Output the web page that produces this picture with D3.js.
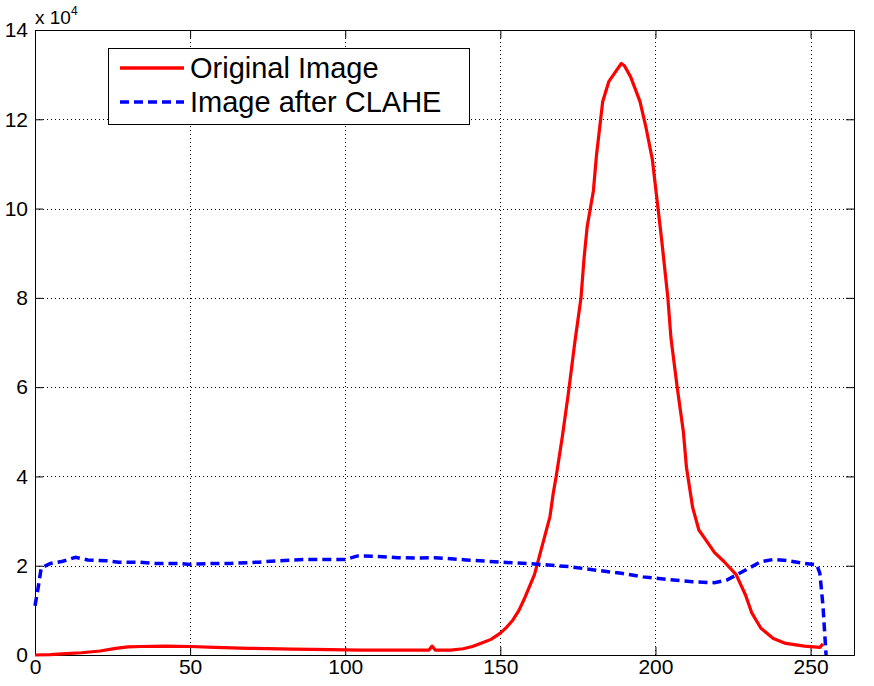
<!DOCTYPE html>
<html>
<head>
<meta charset="utf-8">
<script src="https://cdn.jsdelivr.net/npm/d3@7"></script>
<style>
  body { margin: 0; background: #fff; }
  text { font-family: Arial, "Liberation Sans", Helvetica, sans-serif; fill: #000; }
</style>
</head>
<body>
<div id="chart"></div>
<script>
// histogram values, counts in units of 1e4
var originalX = [0, 5, 10, 15, 21, 26, 30, 34, 42, 50, 58, 69, 83, 95, 105, 118, 127, 128, 129, 134, 138, 141, 144, 147, 150, 152, 154, 156, 158, 161, 164, 166, 167, 168, 170, 172, 174, 176, 177, 178, 180, 181, 182, 183, 185, 187, 189, 190, 192, 195, 197, 199, 200, 201, 202, 204, 205, 207, 208, 209, 210, 212, 214, 216, 219, 222, 226, 229, 231, 234, 238, 242, 248, 253, 254];
var originalY = [0, 0.01, 0.03, 0.05, 0.09, 0.15, 0.18, 0.19, 0.2, 0.19, 0.17, 0.15, 0.13, 0.12, 0.11, 0.11, 0.11, 0.2, 0.11, 0.11, 0.14, 0.19, 0.27, 0.35, 0.49, 0.62, 0.78, 1.0, 1.3, 1.8, 2.58, 3.1, 3.6, 4.0, 4.9, 5.9, 7.0, 8.0, 8.9, 9.6, 10.4, 11.2, 11.8, 12.4, 12.85, 13.05, 13.25, 13.2, 12.95, 12.4, 11.8, 11.1, 10.5, 9.9, 9.3, 8.0, 7.1, 6.0, 5.5, 5.0, 4.2, 3.3, 2.8, 2.6, 2.3, 2.1, 1.8, 1.35, 0.95, 0.6, 0.37, 0.26, 0.2, 0.17, 0.25];

var claheX = [0, 1, 2, 5, 9, 13, 17, 23, 27, 33, 39, 46, 50, 57, 63, 72, 78, 87, 93, 100, 104, 110, 117, 123, 129, 139, 150, 161, 172, 182, 189, 196, 204, 212, 219, 223, 226, 230, 234, 238, 243, 248, 252, 253, 254, 255];
var claheY = [1.1, 1.5, 1.95, 2.05, 2.1, 2.19, 2.13, 2.11, 2.08, 2.08, 2.05, 2.05, 2.03, 2.05, 2.05, 2.08, 2.11, 2.14, 2.14, 2.14, 2.22, 2.21, 2.18, 2.17, 2.18, 2.13, 2.08, 2.04, 1.98, 1.89, 1.83, 1.75, 1.69, 1.64, 1.62, 1.68, 1.79, 1.94, 2.09, 2.14, 2.11, 2.05, 2.02, 1.83, 1.1, 0];

var xTicks = [0, 50, 100, 150, 200, 250];
var yTicks = [0, 2, 4, 6, 8, 10, 12, 14];
var seriesNames = ["Original Image", "Image after CLAHE"];
var seriesColors = ["#ff0000", "#0000ff"];

var width = 874, height = 686;
var plotLeft = 35, plotRight = 854, plotTop = 30, plotBottom = 655;

var svg = d3.select("#chart").append("svg")
  .attr("width", width)
  .attr("height", height);

var x = d3.scaleLinear().domain([0, 264]).range([plotLeft, plotRight]);
var y = d3.scaleLinear().domain([0, 14]).range([plotBottom, plotTop]);

// grid lines
var grid = svg.append("g");
grid.selectAll("line.gx").data(xTicks.slice(1)).enter().append("line")
  .attr("x1", function(d) { return Math.round(x(d)) + 0.5; })
  .attr("x2", function(d) { return Math.round(x(d)) + 0.5; })
  .attr("y1", plotTop).attr("y2", plotBottom)
  .attr("stroke", "#000").attr("stroke-width", 1)
  .attr("stroke-dasharray", "1,3");
grid.selectAll("line.gy").data(yTicks.slice(1, -1)).enter().append("line")
  .attr("y1", function(d) { return Math.round(y(d)) + 0.5; })
  .attr("y2", function(d) { return Math.round(y(d)) + 0.5; })
  .attr("x1", plotLeft).attr("x2", plotRight)
  .attr("stroke", "#000").attr("stroke-width", 1)
  .attr("stroke-dasharray", "1,3");

// axes with inward ticks on every side
svg.append("g").attr("transform", "translate(0," + plotBottom + ")")
  .call(d3.axisBottom(x).tickValues(xTicks).tickSize(-8).tickPadding(4).tickFormat(d3.format("d")));
svg.append("g").attr("transform", "translate(0," + plotTop + ")")
  .call(d3.axisTop(x).tickValues(xTicks).tickSize(-8).tickFormat(""));
svg.append("g").attr("transform", "translate(" + plotLeft + ",0)")
  .call(d3.axisLeft(y).tickValues(yTicks).tickSize(-8).tickPadding(7).tickFormat(d3.format("d")));
svg.append("g").attr("transform", "translate(" + plotRight + ",0)")
  .call(d3.axisRight(y).tickValues(yTicks).tickSize(-8).tickFormat(""));

svg.selectAll(".domain").attr("stroke", "#000").attr("stroke-width", 1);
svg.selectAll(".tick line").attr("stroke", "#000");
svg.selectAll(".tick text").attr("font-size", 21).attr("font-family", "Arial, 'Liberation Sans', sans-serif");

// exponent label
var expo = svg.append("text").attr("x", 35).attr("y", 24).attr("font-size", 19);
expo.append("tspan").text("x 10");
expo.append("tspan").attr("font-size", 12).attr("dy", -9).text("4");

// lines
var line = d3.line()
  .x(function(d) { return x(d[0]); })
  .y(function(d) { return y(d[1]); });

var original = d3.zip(originalX, originalY);
var clahe = d3.zip(claheX, claheY);

svg.append("path").datum(original)
  .attr("d", line)
  .attr("fill", "none")
  .attr("stroke", seriesColors[0])
  .attr("stroke-width", 3.2)
  .attr("stroke-linejoin", "round");

svg.append("path").datum(clahe)
  .attr("d", line)
  .attr("fill", "none")
  .attr("stroke", seriesColors[1])
  .attr("stroke-width", 3.5)
  .attr("stroke-dasharray", "9,5");

// legend
var legend = svg.append("g");
legend.append("rect")
  .attr("x", 108.5).attr("y", 48.5).attr("width", 361).attr("height", 76)
  .attr("fill", "#fff").attr("stroke", "#000").attr("stroke-width", 1);
seriesNames.forEach(function(name, i) {
  var ly = 68 + i * 34;
  legend.append("line")
    .attr("x1", 120).attr("x2", 184).attr("y1", ly).attr("y2", ly)
    .attr("stroke", seriesColors[i])
    .attr("stroke-width", 3.5)
    .attr("stroke-dasharray", i === 1 ? "9,5" : null);
  legend.append("text")
    .attr("x", 190).attr("y", ly + 10)
    .attr("font-size", 29)
    .text(name);
});
</script>
</body>
</html>
